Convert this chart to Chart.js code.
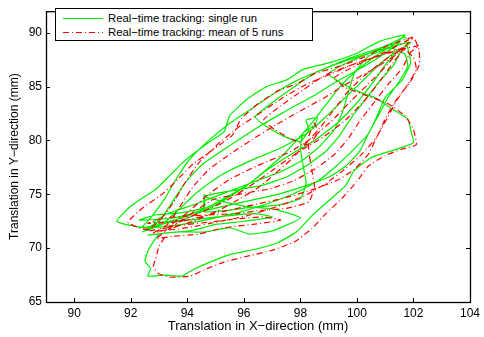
<!DOCTYPE html>
<html>
<head>
<meta charset="utf-8">
<script src="https://cdn.jsdelivr.net/npm/chart.js@4"></script>
<style>
  body { margin: 0; background: #fff; }
  #wrap { position: relative; width: 484px; height: 337px; }
  #legend {
    position: absolute; left: 55px; top: 8px; width: 256px; height: 31px;
    border: 1px solid #000; background: #fff;
    font-family: "Liberation Sans", Arial, Helvetica, sans-serif; font-size: 11.3px; color: #000;
  }
  .row { position: absolute; left: 0; height: 14px; line-height: 14px; white-space: nowrap; }
  .row svg { position: absolute; left: 7px; top: 0; }
  .row span { position: absolute; left: 52px; top: 0; }
</style>
</head>
<body>
<div id="wrap">
  <canvas id="chart" width="484" height="337"></canvas>
  <div id="legend">
    <div class="row" style="top:2px">
      <svg width="42" height="14"><line x1="0" y1="7.5" x2="40" y2="7.5" stroke="#00ee00" stroke-width="1.2"/></svg>
      <span>Real−time tracking: single run</span>
    </div>
    <div class="row" style="top:16px">
      <svg width="42" height="14"><line x1="0" y1="7.5" x2="40" y2="7.5" stroke="#ff0000" stroke-width="1.2" stroke-dasharray="6,3,1,3"/></svg>
      <span>Real−time tracking: mean of 5 runs</span>
    </div>
  </div>
</div>
<script>
// tick values
const xTicks = [90, 92, 94, 96, 98, 100, 102, 104];
const yTicks = [65, 70, 75, 80, 85, 90];

// single run trajectory (x, y in mm)
const singleRun = [
  [93.0,71.3],[92.8,70.6],[92.6,69.7],[92.5,68.8],[92.7,68.1],[92.6,67.4],[93.2,67.5],[93.8,67.4],[94.2,68.0],[94.8,68.7],
  [95.5,69.4],[96.4,69.9],[97.2,70.5],[97.9,71.6],[98.4,73.0],[99.0,74.4],[99.6,75.8],[99.9,77.2],[100.5,78.4],[101.3,79.1],[102.0,79.8],
  [101.9,81.0],[101.8,82.0],[101.2,83.0],[100.7,83.9],[100.0,84.6],[99.4,85.4],[99.0,86.2],[99.8,87.4],[100.8,88.5],[101.7,89.6],
  [101.8,88.6],[101.9,87.2],[101.6,85.6],[101.0,84.0],[100.7,82.2],[100.4,80.6],[99.9,79.2],[99.3,77.7],[98.6,76.2],[97.8,75.1],
  [96.8,74.1],[95.8,73.3],[94.8,72.7],[93.8,72.2],[92.8,71.9],[92.2,72.0],
  [91.5,72.5],[92.05,74.0],[92.9,75.5],[93.4,76.8],[93.9,78.1],[94.8,79.9],[95.3,80.8],[95.5,82.3],[96.1,83.8],[96.8,85.0],
  [97.5,85.6],[98.1,86.6],[99.0,87.2],[100.0,88.1],[100.8,89.2],[101.7,89.8],
  [101.3,88.9],[100.7,87.9],[100.0,86.5],[99.4,85.0],[98.9,83.3],[98.4,81.6],[97.9,80.1],[97.4,78.7],[96.8,77.3],[96.2,76.0],
  [95.5,74.9],[94.8,73.9],[94.0,73.0],[93.2,72.3],[92.5,71.7],
  [93.0,72.5],[93.4,74.0],[93.9,76.0],[94.5,77.7],[95.2,79.0],[96.0,80.4],[96.8,81.7],[97.6,82.9],[98.5,84.2],[99.3,85.5],
  [100.2,86.8],[101.0,88.1],[101.5,89.1],
  [100.6,88.4],[99.7,87.6],[98.8,86.6],[97.9,85.6],[97.1,84.4],[96.3,83.0],[95.5,81.6],[94.8,80.1],[94.1,78.3],[93.6,76.4],
  [93.2,74.6],[92.7,72.8],[92.4,71.9],
  [93.4,72.4],[94.4,72.7],[95.4,73.0],[96.4,73.2],[97.0,72.9],[96.0,72.5],[95.0,72.2],[94.1,71.6],[93.2,71.4],[92.6,71.2],
  [93.6,71.5],[94.6,71.5],[95.5,71.9],[96.2,71.3],[97.0,71.6],[98.0,72.8],
  [97.1,73.6],[96.0,73.9],[94.6,74.8],[95.5,75.3],[96.6,75.8],[97.5,76.6],[98.3,77.8],[98.9,79.0],[99.4,80.5],[99.8,82.1],
  [100.3,83.8],[100.8,85.5],[101.3,87.0],[101.6,88.5],[101.9,89.1],
  [101.2,88.7],[100.3,88.0],[99.5,87.3],[98.6,86.4],[97.8,85.0],[97.0,83.5],[96.4,82.2],[96.8,81.3],[97.4,80.4],[98.0,79.9],
  [98.3,81.0],[98.2,81.9],[98.6,82.1],[98.5,81.4],[98.1,80.7],[98.0,79.3],[98.1,77.6],[98.2,76.0],[98.0,74.6],[97.2,74.0],
  [96.3,73.8],[95.4,73.5],[94.6,73.4],[94.6,75.0],[94.6,73.8],[93.8,73.3],[92.9,73.1],[92.3,72.6],
  [93.5,72.8],[94.8,73.6],[96.0,74.3],[97.2,75.0],[98.2,75.8],[99.0,76.6],[99.6,77.6],[100.1,79.0],[100.4,80.6],[100.8,82.5],
  [101.1,84.0],[101.5,85.5],[101.8,86.9],[101.7,88.0],[101.2,88.6],[100.4,87.8],[99.9,86.2],[99.7,84.5],[99.5,82.7],[99.2,81.0],
  [98.7,79.5],[98.1,78.2],[97.3,77.1],[96.4,76.2],[95.4,75.2],[94.3,74.1],[93.3,73.2],[92.8,72.4],
  [93.8,72.6],[95.0,74.0],[96.0,75.6],[96.8,77.2],[97.6,78.6],[98.5,80.0],[99.3,81.6],[100.0,83.5],[100.6,85.5],[101.0,87.0],
  [101.4,88.3],[100.9,87.3],[100.3,85.8],[99.6,84.0],[98.9,82.2],[98.2,80.6],[97.3,79.3],[96.3,78.2],[95.2,76.8],[94.4,75.3],
  [93.7,73.6],[93.1,72.2],[92.4,71.5]
];

// mean of 5 runs (x, y in mm)
const meanRun = [
  [93.2,71.0],[93.0,70.2],[92.9,69.2],[92.8,68.3],[93.0,67.6],[93.4,67.3],[94.1,67.4],[94.6,68.0],[95.3,68.7],[96.2,69.3],
  [97.0,69.8],[97.8,70.6],[98.4,71.8],[98.9,73.2],[99.5,74.7],[100.0,76.2],[100.4,77.6],[101.0,78.6],[101.6,79.2],[102.1,79.6],
  [102.0,81.0],[101.7,82.3],[101.1,83.4],[100.3,84.2],[99.6,84.9],[99.2,85.8],[100.0,87.0],[101.0,88.2],[102.0,89.5],
  [102.2,88.4],[102.2,87.0],[101.9,85.5],[101.4,83.8],[101.0,82.0],[100.7,80.3],[100.2,78.8],[99.6,77.4],[98.9,76.0],[98.1,74.8],
  [97.1,73.8],[96.1,73.0],[95.0,72.4],[94.0,71.9],[93.0,71.6],[92.4,71.8],
  [91.9,72.4],[92.4,73.7],[93.2,75.2],[93.7,76.5],[94.2,77.8],[95.1,79.5],[95.6,80.5],[95.9,82.0],[96.5,83.4],[97.2,84.6],
  [97.9,85.3],[98.5,86.2],[99.4,86.9],[100.3,87.8],[101.1,88.8],[102.0,89.6],
  [101.6,88.5],[101.0,87.5],[100.3,86.1],[99.7,84.6],[99.2,82.9],[98.7,81.2],[98.2,79.7],[97.7,78.3],[97.1,76.9],[96.5,75.6],
  [95.8,74.5],[95.1,73.5],[94.3,72.6],[93.5,71.9],[92.8,71.4],
  [93.3,72.2],[93.7,73.7],[94.2,75.7],[94.8,77.4],[95.5,78.7],[96.3,80.1],[97.1,81.4],[97.9,82.6],[98.8,83.9],[99.6,85.2],
  [100.5,86.5],[101.3,87.8],[101.8,88.7],
  [100.9,88.0],[100.0,87.2],[99.1,86.2],[98.2,85.2],[97.4,84.0],[96.6,82.6],[95.8,81.2],[95.1,79.7],[94.4,77.9],[93.9,76.0],
  [93.5,74.2],[93.0,72.5],[92.6,71.6],
  [93.7,72.1],[94.7,72.4],[95.7,72.7],[96.7,72.9],[97.3,72.6],[96.3,72.2],[95.3,71.9],[94.4,71.3],[93.5,71.1],[92.9,70.9],
  [94.9,74.5],[95.8,75.0],[96.9,75.5],[97.8,76.3],[98.6,77.5],[99.2,78.7],[99.7,80.2],[100.1,81.8],[100.6,83.5],[101.1,85.2],
  [101.6,86.7],[101.9,88.2],[102.2,88.8],
  [101.5,88.4],[100.6,87.7],[99.8,87.0],[98.9,86.1],[98.1,84.7],[97.3,83.2],[96.7,81.9],[97.1,81.0],[97.7,80.1],[98.3,79.6],
  [98.6,80.7],[98.5,81.6],[98.3,80.4],[98.3,79.0],[98.4,77.3],[98.5,75.7],[98.3,74.3],[97.5,73.7],[96.6,73.5],[95.7,73.2],
  [94.9,73.1],[94.1,73.0],[93.2,72.8],[92.6,72.3],
  [93.8,72.5],[95.1,73.3],[96.3,74.0],[97.5,74.7],[98.5,75.5],[99.3,76.3],[99.9,77.3],[100.4,78.7],[100.7,80.3],[101.1,82.2],
  [101.4,83.7],[101.8,85.2],[102.1,86.6],[102.0,87.7],
  [101.6,88.6],[101.1,87.1],[100.5,85.5],[99.8,83.7],[99.1,81.8],[98.4,80.2],[97.6,78.9],[96.6,77.8],[95.5,76.4],[94.7,74.9],
  [94.0,73.3],[93.3,71.9],
  [94.1,72.9],[95.3,74.3],[96.3,75.9],[97.1,77.4],[97.9,78.9],[98.8,80.3],[99.6,81.9],[100.3,83.8],[100.9,85.8],[101.3,87.3],[101.7,88.6]
];

const FONT = '"Liberation Sans", Arial, Helvetica, sans-serif';

function toPoints(arr) {
  return arr.map(p => ({ x: p[0], y: p[1] }));
}

// box around the axes with inward ticks on all four sides
const boxPlugin = {
  id: 'box',
  afterDraw(chart) {
    const { ctx, chartArea: a, scales } = chart;
    ctx.save();
    ctx.strokeStyle = '#000';
    ctx.lineWidth = 1.3;
    ctx.strokeRect(a.left + 0.5, a.top + 0.5, a.right - a.left, a.bottom - a.top);
    const len = 4;
    ctx.lineWidth = 1;
    ctx.beginPath();
    xTicks.forEach(v => {
      const x = Math.round(scales.x.getPixelForValue(v)) + 0.5;
      ctx.moveTo(x, a.bottom); ctx.lineTo(x, a.bottom - len);
      ctx.moveTo(x, a.top); ctx.lineTo(x, a.top + len);
    });
    yTicks.forEach(v => {
      const y = Math.round(scales.y.getPixelForValue(v)) + 0.5;
      ctx.moveTo(a.left, y); ctx.lineTo(a.left + len, y);
      ctx.moveTo(a.right, y); ctx.lineTo(a.right - len, y);
    });
    ctx.stroke();
    ctx.restore();
  }
};

new Chart(document.getElementById('chart'), {
  type: 'scatter',
  data: {
    datasets: [
      {
        label: 'Real−time tracking: mean of 5 runs',
        data: toPoints(meanRun),
        showLine: true,
        borderColor: '#ff0000',
        borderWidth: 1.2,
        borderDash: [6, 3, 1, 3],
        pointRadius: 0,
        tension: 0.15
      },
      {
        label: 'Real−time tracking: single run',
        data: toPoints(singleRun),
        showLine: true,
        borderColor: '#00ee00',
        borderWidth: 1.2,
        pointRadius: 0,
        tension: 0.15
      }
    ]
  },
  options: {
    responsive: false,
    animation: false,
    layout: { padding: { left: 0, top: 3, right: 9, bottom: 0 } },
    plugins: { legend: { display: false }, tooltip: { enabled: false } },
    scales: {
      x: {
        type: 'linear', min: 89, max: 104,
        afterBuildTicks: s => { s.ticks = xTicks.map(v => ({ value: v })); },
        afterFit: s => { s.height = 35; },
        grid: { display: false, drawTicks: false },
        border: { display: false },
        ticks: { color: '#000', font: { family: FONT, size: 12 }, padding: 4, maxRotation: 0 },
        title: { display: true, text: 'Translation in X−direction (mm)', color: '#000',
                 font: { family: FONT, size: 13 }, padding: { top: 0, bottom: 3 } }
      },
      y: {
        type: 'linear', min: 65, max: 92,
        afterBuildTicks: s => { s.ticks = yTicks.map(v => ({ value: v })); },
        afterFit: s => { s.width = 46; },
        grid: { display: false, drawTicks: false },
        border: { display: false },
        ticks: { color: '#000', font: { family: FONT, size: 12 }, padding: 4 },
        title: { display: true, text: 'Translation in Y−direction (mm)', color: '#000',
                 font: { family: FONT, size: 12 }, padding: { top: 7, bottom: 0 } }
      }
    }
  },
  plugins: [boxPlugin]
});
</script>
</body>
</html>
